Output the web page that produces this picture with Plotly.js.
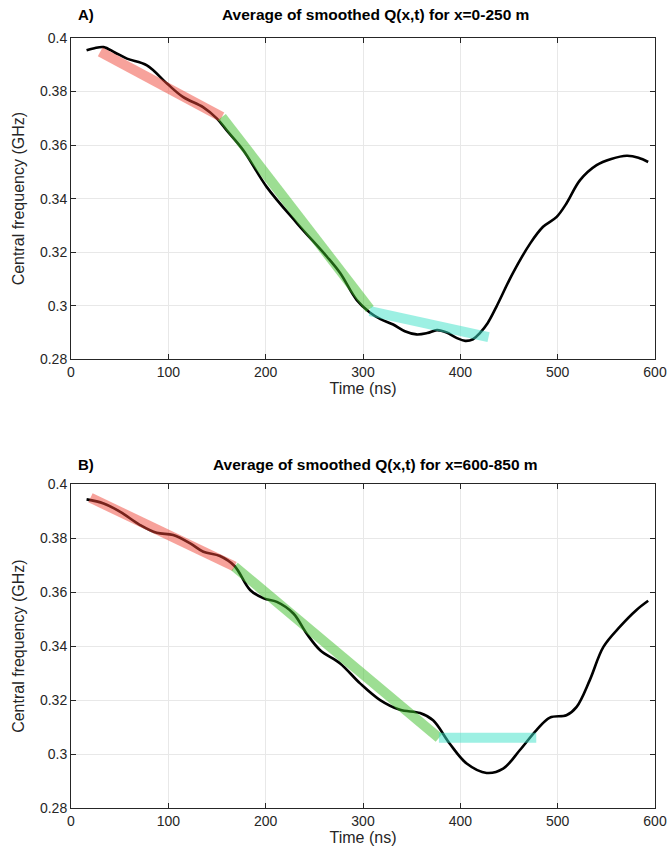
<!DOCTYPE html>
<html>
<head>
<meta charset="utf-8">
<script src="https://cdn.plot.ly/plotly-3.0.1.min.js"></script>
<style>html,body{margin:0;padding:0;background:#fff;}#chart{width:668px;height:858px;}</style>
</head>
<body>
<div id="chart"></div>
<script>
// ---- Data ----
const titleA = "Average of smoothed Q(x,t) for x=0-250 m";
const titleB = "Average of smoothed Q(x,t) for x=600-850 m";
const xTitle = "Time (ns)";
const yTitle = "Central frequency (GHz)";
const yTickVals = [0.28, 0.30, 0.32, 0.34, 0.36, 0.38, 0.40];
const yTickText = ["0.28", "0.3", "0.32", "0.34", "0.36", "0.38", "0.4"];
const xTickVals = [0, 100, 200, 300, 400, 500, 600];

// Panel A: smoothed average
const tA = [16, 24, 33.5, 45, 57.5, 78, 98.6, 115, 136, 150, 160, 177, 201, 232, 263, 276.5, 293.6, 307, 318, 331, 343, 355, 366, 376, 386, 396, 405, 413, 420, 428, 437, 454, 472, 485, 499, 509, 523, 540, 555, 571, 583, 593];
const fA = [0.3954, 0.3962, 0.3966, 0.3946, 0.3923, 0.3898, 0.3830, 0.3780, 0.3741, 0.3699, 0.3655, 0.3581, 0.3444, 0.3309, 0.3183, 0.3122, 0.3021, 0.2975, 0.2950, 0.2930, 0.2905, 0.2893, 0.2898, 0.2909, 0.2900, 0.2880, 0.2869, 0.2875, 0.2898, 0.2935, 0.2996, 0.3122, 0.3234, 0.3295, 0.3332, 0.3382, 0.3469, 0.3525, 0.3548, 0.3560, 0.3553, 0.3537];
// Panel A: linear segments
const redA_t = [30, 155],  redA_f = [0.3948, 0.3705];
const grnA_t = [155, 307], grnA_f = [0.3705, 0.2988];
const cyaA_t = [307, 429], cyaA_f = [0.2980, 0.2883];

// Panel B: smoothed average
const tB = [16, 33.5, 50.6, 71, 88, 105, 122.5, 136, 153, 168, 184, 198, 211.5, 228.5, 242, 256, 276.5, 297, 317.6, 338, 358.6, 372, 389, 406.5, 427, 444, 461, 478, 492, 509, 519.5, 533, 547, 564, 581, 593];
const fB = [0.3944, 0.3929, 0.3898, 0.3849, 0.3820, 0.3812, 0.3781, 0.3750, 0.3734, 0.3697, 0.3608, 0.3577, 0.3564, 0.3521, 0.3447, 0.3385, 0.3336, 0.3262, 0.3200, 0.3164, 0.3152, 0.3125, 0.3039, 0.2965, 0.2930, 0.2946, 0.3014, 0.3088, 0.3135, 0.3144, 0.3175, 0.3274, 0.3397, 0.3472, 0.3534, 0.3568];
// Panel B: linear segments
const redB_t = [20, 168],  redB_f = [0.3950, 0.3695];
const grnB_t = [168, 378], grnB_f = [0.3695, 0.3060];
const cyaB_t = [378, 478], cyaB_f = [0.3060, 0.3060];

// ---- Styles ----
const FONT = "Liberation Sans, Arial, Helvetica, sans-serif";
const RED = "rgba(240,70,55,0.5)";
const GRN = "rgba(60,190,40,0.5)";
const CYA = "rgba(60,225,200,0.5)";
const BAND = 10;

function curve(x, y, xa, ya) {
  return {x: x, y: y, xaxis: xa, yaxis: ya, mode: "lines", type: "scatter",
    line: {color: "#000", width: 2.6, shape: "spline", smoothing: 1}, hoverinfo: "skip"};
}
function band(x, y, c, xa, ya) {
  return {x: x, y: y, xaxis: xa, yaxis: ya, mode: "lines", type: "scatter",
    line: {color: c, width: BAND}, hoverinfo: "skip"};
}

const data = [
  curve(tA, fA, "x", "y"),
  band(redA_t, redA_f, RED, "x", "y"),
  band(grnA_t, grnA_f, GRN, "x", "y"),
  band(cyaA_t, cyaA_f, CYA, "x", "y"),
  curve(tB, fB, "x2", "y2"),
  band(redB_t, redB_f, RED, "x2", "y2"),
  band(grnB_t, grnB_f, GRN, "x2", "y2"),
  band(cyaB_t, cyaB_f, CYA, "x2", "y2")
];

function xax(anchor) {
  return {anchor: anchor, domain: [0, 1], range: [0, 600], tickvals: xTickVals,
    ticks: "inside", ticklen: 5, tickcolor: "#262626", showline: true, linecolor: "#262626",
    linewidth: 1, mirror: "ticks", showgrid: true, gridcolor: "#e8e8e8", zeroline: false,
    tickfont: {family: FONT, size: 14, color: "#262626"},
    title: {text: xTitle, font: {family: FONT, size: 16, color: "#262626"}, standoff: 1}};
}
function yax(anchor, dom) {
  return {anchor: anchor, domain: dom, range: [0.28, 0.40], tickvals: yTickVals, ticktext: yTickText,
    ticks: "inside", ticklen: 5, tickcolor: "#262626", showline: true, linecolor: "#262626",
    linewidth: 1, mirror: "ticks", showgrid: true, gridcolor: "#e8e8e8", zeroline: false,
    tickfont: {family: FONT, size: 14, color: "#262626"},
    title: {text: yTitle, font: {family: FONT, size: 16, color: "#262626"}, standoff: 11}};
}

const layout = {
  width: 668, height: 858,
  margin: {l: 71, r: 13, t: 38, b: 50},
  paper_bgcolor: "#fff", plot_bgcolor: "#fff",
  showlegend: false,
  xaxis: xax("y"),
  yaxis: yax("x", [0.5827, 1]),
  xaxis2: xax("y2"),
  yaxis2: yax("x2", [0, 0.4204]),
  annotations: [
    {text: "<b>A)</b>", xref: "paper", yref: "paper", x: 0.009, y: 1.03, xanchor: "left", yanchor: "middle", showarrow: false, font: {family: FONT, size: 15, color: "#000"}},
    {text: "<b>" + titleA + "</b>", xref: "paper", yref: "paper", x: 0.521, y: 1.03, xanchor: "center", yanchor: "middle", showarrow: false, font: {family: FONT, size: 15.5, color: "#000"}},
    {text: "<b>B)</b>", xref: "paper", yref: "paper", x: 0.009, y: 0.4455, xanchor: "left", yanchor: "middle", showarrow: false, font: {family: FONT, size: 15, color: "#000"}},
    {text: "<b>" + titleB + "</b>", xref: "paper", yref: "paper", x: 0.521, y: 0.4455, xanchor: "center", yanchor: "middle", showarrow: false, font: {family: FONT, size: 15.5, color: "#000"}}
  ]
};

Plotly.newPlot("chart", data, layout, {staticPlot: true, displayModeBar: false});
</script>
</body>
</html>
